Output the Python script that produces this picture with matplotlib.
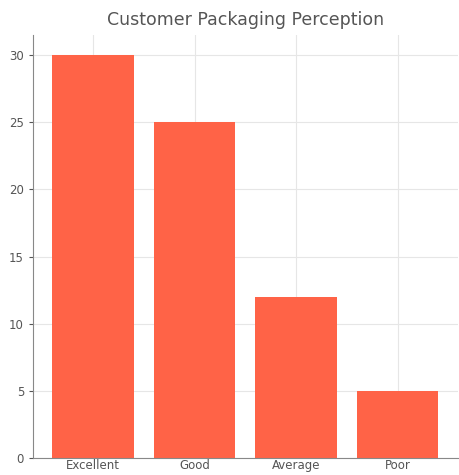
import matplotlib.pyplot as plt

# Survey counts per rating
ratings = ["Excellent", "Good", "Average", "Poor"]
counts = [30, 25, 12, 5]

fig = plt.figure(figsize=(4.59, 4.75), dpi=100)
ax = fig.add_axes([0.072, 0.036, 0.925, 0.89])

ax.bar(ratings, counts, color="#FF6347", width=0.8, zorder=2)

ax.set_title("Customer Packaging Perception", fontsize=12.5, color="#555555", pad=7)
ax.grid(True, color="#E6E6E6", linewidth=0.8, zorder=0)
ax.set_axisbelow(True)

for side in ["top", "right"]:
    ax.spines[side].set_visible(False)
for side in ["left", "bottom"]:
    ax.spines[side].set_color("#888888")

ax.tick_params(labelsize=8.5, colors="#555555", length=3)
ax.tick_params(axis="x", length=0, pad=1)
ax.set_yticks([0, 5, 10, 15, 20, 25, 30])

plt.savefig("out.png", dpi=100)
